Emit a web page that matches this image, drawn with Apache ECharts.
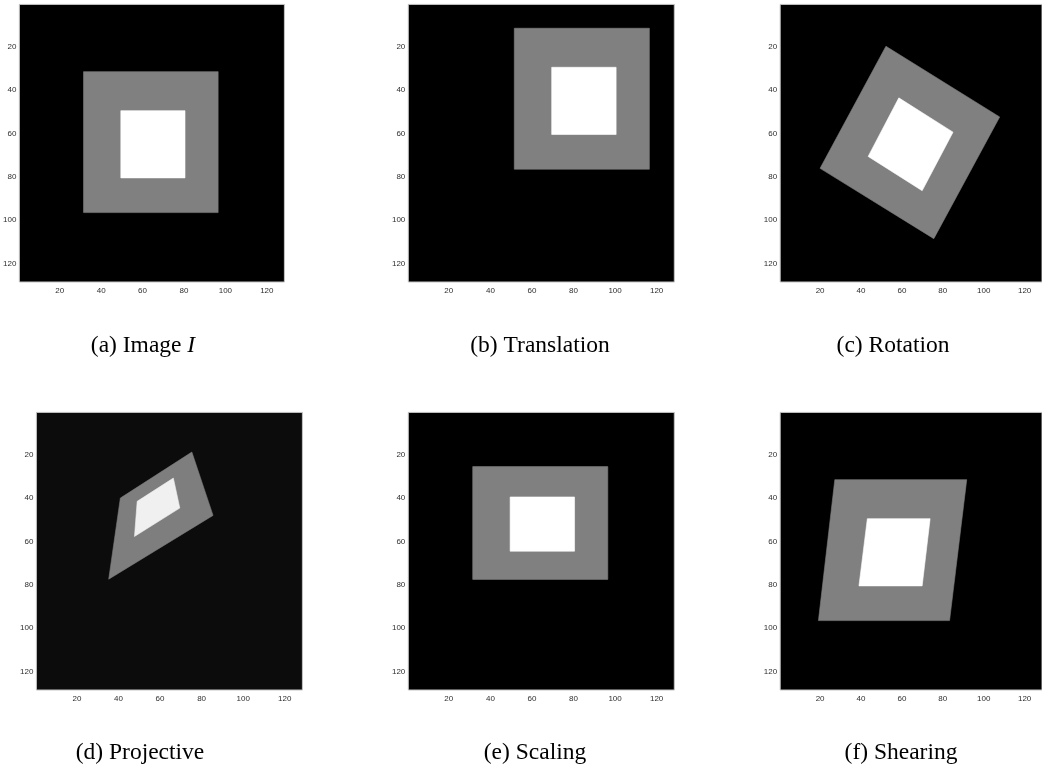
<!DOCTYPE html>
<html>
<head>
<meta charset="utf-8">
<style>
  html, body { margin: 0; padding: 0; background: #ffffff; }
  #chart { width: 1042px; height: 765px; }
</style>
<script src="https://cdn.jsdelivr.net/npm/echarts@6/dist/echarts.min.js"></script>
</head>
<body>
<div id="chart"></div>
<script>
// Tick values shown on both axes of every panel (image pixel coordinates, 1..128).
const ticks = [20, 40, 60, 80, 100, 120];

// Captions under each panel; the italic symbol is kept separate.
const captions = ['(a) Image ', '(b) Translation', '(c) Rotation', '(d) Projective', '(e) Scaling', '(f) Shearing'];
const captionSymbol = ['I', '', '', '', '', ''];

// Corner points [x, y] of the grey frame and the white square in each transformed image.
const imageOuter = [[31.5, 31.5], [96.5, 31.5], [96.5, 96.5], [31.5, 96.5]];
const imageInner = [[49.5, 49.5], [80.5, 49.5], [80.5, 80.5], [49.5, 80.5]];

const translationOuter = [[51.5, 11.5], [116.5, 11.5], [116.5, 76.5], [51.5, 76.5]];
const translationInner = [[69.5, 29.5], [100.5, 29.5], [100.5, 60.5], [69.5, 60.5]];

const rotationOuter = [[52.2, 19.8], [107.8, 52.4], [75.6, 108.5], [20.0, 76.1]];
const rotationInner = [[58.5, 43.6], [85.0, 59.4], [69.9, 86.4], [43.5, 70.6]];

const projectiveOuter = [[40.9, 40.0], [75.3, 18.8], [85.5, 48.0], [35.3, 77.4]];
const projectiveInner = [[49.0, 41.5], [66.4, 30.8], [69.5, 44.6], [47.7, 57.7]];

const scalingOuter = [[31.5, 25.5], [96.5, 25.5], [96.5, 77.5], [31.5, 77.5]];
const scalingInner = [[49.5, 39.5], [80.5, 39.5], [80.5, 64.5], [49.5, 64.5]];

const shearingOuter = [[27.2, 31.5], [91.7, 31.5], [83.3, 96.5], [19.2, 96.5]];
const shearingInner = [[43.1, 49.5], [73.8, 49.5], [69.9, 80.5], [39.0, 80.5]];

const panelShapes = [
  [imageOuter, imageInner],
  [translationOuter, translationInner],
  [rotationOuter, rotationInner],
  [projectiveOuter, projectiveInner],
  [scalingOuter, scalingInner],
  [shearingOuter, shearingInner]
];

// ---- layout and styling ----
const panelLeft = [18.4, 408.3, 780.2, 36.4, 408.3, 780.2];
const panelTop = [4.4, 4.4, 4.4, 412.4, 412.4, 412.4];
const panelWidth = 266;
const panelHeight = 277.6;
const captionX = [143, 540, 893, 140, 535, 901];
const captionY = [346, 346, 346, 753, 753, 753];

const backgroundColors = ['#000000', '#000000', '#000000', '#0c0c0c', '#000000', '#000000'];
const frameColors = ['#808080', '#808080', '#808080', '#7e7e7e', '#808080', '#808080'];
const squareColors = ['#ffffff', '#ffffff', '#ffffff', '#f0f0f0', '#ffffff', '#ffffff'];

const chart = echarts.init(document.getElementById('chart'), null, { renderer: 'canvas' });

const grids = [], xAxes = [], yAxes = [], series = [], graphics = [];

const axisLabelStyle = {
  customValues: ticks,
  fontSize: 8,
  fontFamily: 'Liberation Sans, Arial, sans-serif',
  color: '#2e2e2e'
};

for (let i = 0; i < 6; i++) {
  grids.push({
    left: panelLeft[i], top: panelTop[i], width: panelWidth, height: panelHeight,
    show: true, backgroundColor: backgroundColors[i],
    borderColor: '#c4c4c4', borderWidth: 1, containLabel: false
  });
  xAxes.push({
    type: 'value', gridIndex: i, min: 0.5, max: 128.5,
    axisLine: { show: false }, axisTick: { show: false }, splitLine: { show: false },
    axisLabel: Object.assign({ margin: 5 }, axisLabelStyle)
  });
  yAxes.push({
    type: 'value', gridIndex: i, min: 0.5, max: 128.5, inverse: true,
    axisLine: { show: false }, axisTick: { show: false }, splitLine: { show: false },
    axisLabel: Object.assign({ margin: 3 }, axisLabelStyle)
  });

  const [outer, inner] = panelShapes[i];
  series.push({
    type: 'custom',
    xAxisIndex: i, yAxisIndex: i,
    clip: true,
    silent: true,
    dimensions: ['x1', 'y1', 'x2', 'y2', 'x3', 'y3', 'x4', 'y4'],
    encode: { x: [0, 2, 4, 6], y: [1, 3, 5, 7] },
    data: [
      { value: outer.flat(), itemStyle: { color: frameColors[i] } },
      { value: inner.flat(), itemStyle: { color: squareColors[i] } }
    ],
    renderItem: function (params, api) {
      const pts = [];
      for (let k = 0; k < 4; k++) {
        pts.push(api.coord([api.value(2 * k), api.value(2 * k + 1)]));
      }
      const color = api.visual('color');
      return {
        type: 'polygon',
        shape: { points: pts },
        style: { fill: color, stroke: color, lineWidth: 0.6 }
      };
    }
  });

  const rich = {
    n: { fontFamily: 'Liberation Serif, Times New Roman, serif', fontSize: 23.5, fill: '#000' },
    s: { fontFamily: 'Liberation Serif, Times New Roman, serif', fontSize: 23.5, fontStyle: 'italic', fill: '#000' }
  };
  const label = captionSymbol[i] ? '{n|' + captions[i] + '}{s|' + captionSymbol[i] + '}' : '{n|' + captions[i] + '}';
  graphics.push({
    type: 'text',
    x: captionX[i], y: captionY[i],
    style: {
      text: label, rich: rich,
      textAlign: 'center', textVerticalAlign: 'middle',
      fill: '#000'
    }
  });
}

chart.setOption({
  animation: false,
  backgroundColor: '#ffffff',
  grid: grids,
  xAxis: xAxes,
  yAxis: yAxes,
  series: series,
  graphic: graphics
});
</script>
</body>
</html>
